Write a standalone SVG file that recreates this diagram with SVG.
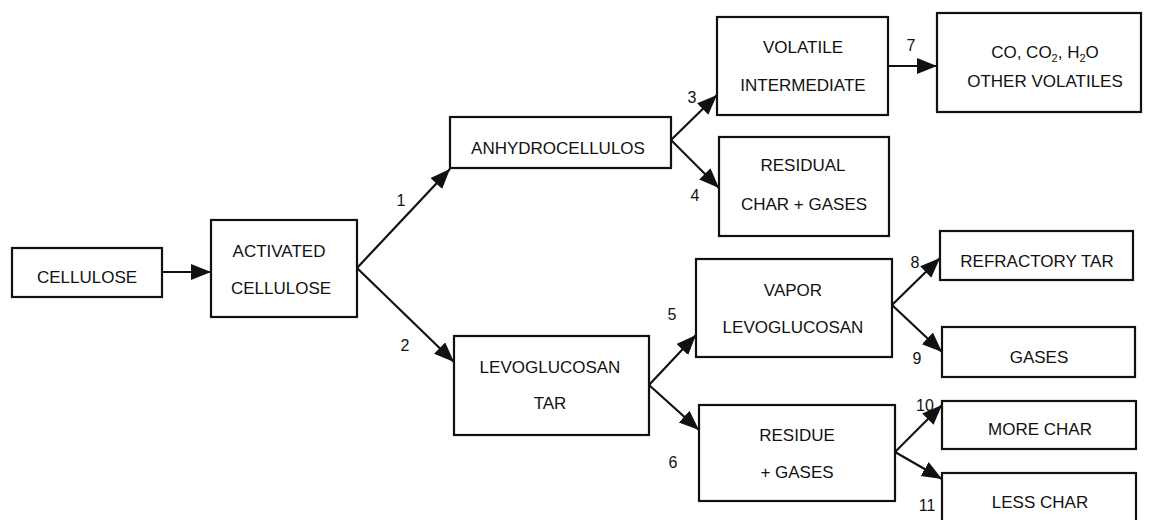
<svg xmlns="http://www.w3.org/2000/svg" width="1152" height="520" viewBox="0 0 1152 520">
<style>
.box{fill:#fff;stroke:#111;stroke-width:2.2}
.t{font-family:"Liberation Sans",Arial,sans-serif;font-size:17px;fill:#111;text-anchor:middle}
.n{font-family:"Liberation Sans",Arial,sans-serif;font-size:16px;fill:#111;text-anchor:middle}
.c{stroke:#111;stroke-width:2.2;fill:none;marker-end:url(#ah)}
</style>
<defs>
<marker id="ah" markerUnits="userSpaceOnUse" markerWidth="22" markerHeight="18" refX="20" refY="8" orient="auto">
<path d="M0,0 L20,8 L0,16 z" fill="#111"/>
</marker>
</defs>
<rect width="1152" height="520" fill="#fff"/>
<g id="connectors">
<line class="c" x1="162" y1="272" x2="211" y2="272"/>
<line class="c" x1="357" y1="268" x2="450" y2="169"/>
<line class="c" x1="357" y1="268" x2="454" y2="362"/>
<line class="c" x1="671" y1="140" x2="717" y2="95"/>
<line class="c" x1="671" y1="140" x2="719" y2="188"/>
<line class="c" x1="888" y1="66" x2="937" y2="66"/>
<line class="c" x1="649" y1="385" x2="696" y2="335"/>
<line class="c" x1="649" y1="385" x2="699" y2="430"/>
<line class="c" x1="892" y1="305" x2="940" y2="258"/>
<line class="c" x1="892" y1="305" x2="942" y2="352"/>
<line class="c" x1="895" y1="452" x2="942" y2="405"/>
<line class="c" x1="895" y1="452" x2="942" y2="479"/>
<text class="n" x="401" y="206">1</text>
<text class="n" x="405" y="351">2</text>
<text class="n" x="692" y="103">3</text>
<text class="n" x="695" y="201">4</text>
<text class="n" x="672" y="320">5</text>
<text class="n" x="673" y="468">6</text>
<text class="n" x="911" y="51">7</text>
<text class="n" x="915" y="268">8</text>
<text class="n" x="917" y="364">9</text>
<text class="n" x="925" y="411">10</text>
<text class="n" x="927" y="511">11</text>
</g>
<g id="cellulose"><rect class="box" x="12" y="248" width="150" height="49"/><text class="t" x="87" y="283">CELLULOSE</text></g>
<g id="activated"><rect class="box" x="211" y="220" width="146" height="97"/><text class="t" x="279" y="257">ACTIVATED</text><text class="t" x="281" y="294">CELLULOSE</text></g>
<g id="anhydro"><rect class="box" x="450" y="117" width="221" height="51"/><text class="t" x="558" y="154">ANHYDROCELLULOS</text></g>
<g id="volatile"><rect class="box" x="717" y="17" width="171" height="98"/><text class="t" x="803" y="53">VOLATILE</text><text class="t" x="803" y="91">INTERMEDIATE</text></g>
<g id="co"><rect class="box" x="937" y="13" width="204" height="99"/><text class="t" x="1045" y="58">CO, CO<tspan font-size="11" dy="4">2</tspan><tspan dy="-4">, H</tspan><tspan font-size="11" dy="4">2</tspan><tspan dy="-4">O</tspan></text><text class="t" x="1045" y="87">OTHER VOLATILES</text></g>
<g id="residual"><rect class="box" x="719" y="137" width="170" height="99"/><text class="t" x="803" y="171">RESIDUAL</text><text class="t" x="804" y="210">CHAR + GASES</text></g>
<g id="levotar"><rect class="box" x="454" y="336" width="195" height="99"/><text class="t" x="550" y="373">LEVOGLUCOSAN</text><text class="t" x="550" y="409">TAR</text></g>
<g id="vapor"><rect class="box" x="696" y="259" width="196" height="98"/><text class="t" x="793" y="296">VAPOR</text><text class="t" x="793" y="333">LEVOGLUCOSAN</text></g>
<g id="refractory"><rect class="box" x="940" y="231" width="193" height="49"/><text class="t" x="1037" y="267">REFRACTORY TAR</text></g>
<g id="gases"><rect class="box" x="942" y="327" width="193" height="50"/><text class="t" x="1039" y="363">GASES</text></g>
<g id="residue"><rect class="box" x="699" y="405" width="196" height="96"/><text class="t" x="797" y="441">RESIDUE</text><text class="t" x="797" y="478">+ GASES</text></g>
<g id="morechar"><rect class="box" x="942" y="401" width="194" height="48"/><text class="t" x="1040" y="435">MORE CHAR</text></g>
<g id="lesschar"><rect class="box" x="942" y="473" width="194" height="60"/><text class="t" x="1040" y="508">LESS CHAR</text></g>
</svg>
